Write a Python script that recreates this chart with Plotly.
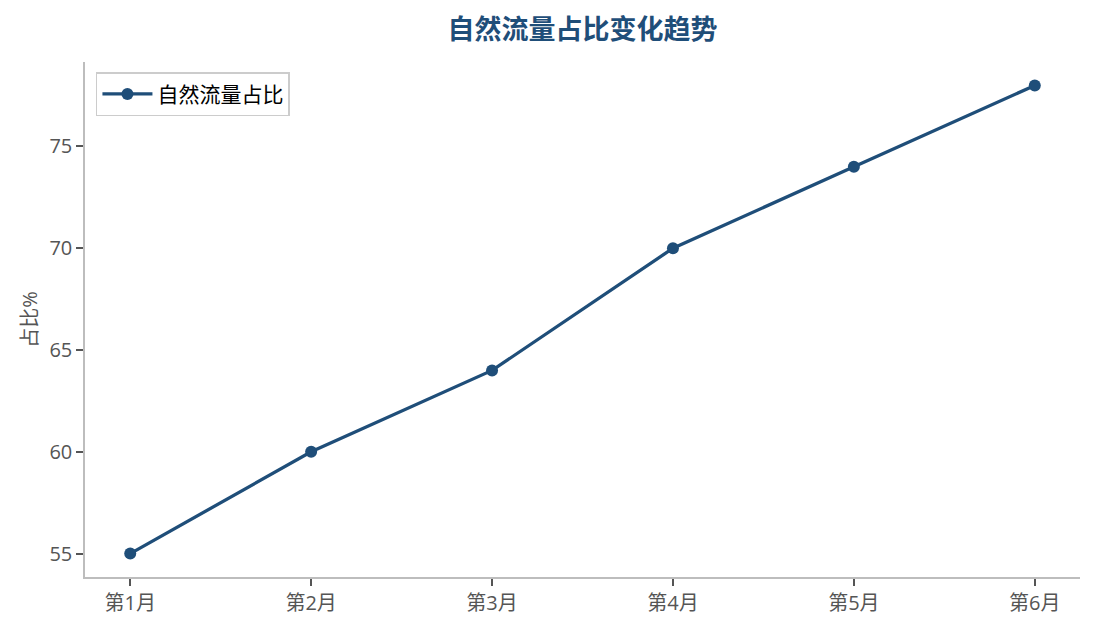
import plotly.graph_objects as go

# 自然流量占比 by month
months = ["第1月", "第2月", "第3月", "第4月", "第5月", "第6月"]
share = [55, 60, 64, 70, 74, 78]
y_ticks = [55, 60, 65, 70, 75]

main_color = "#1f4e79"
axis_color = "#bdbdbd"
text_gray = "#555555"
cjk = "Open Sans, Noto Sans CJK SC"

fig = go.Figure()
fig.add_trace(go.Scatter(
    x=months, y=share, mode="lines+markers", name="自然流量占比",
    line=dict(color=main_color, width=3.3),
    marker=dict(color=main_color, size=12),
))

# the page body adds an 8px offset, margins compensate for it
fig.update_layout(
    width=1095, height=630,
    paper_bgcolor="white", plot_bgcolor="white",
    margin=dict(l=77, r=23, t=54, b=61),
    font=dict(family=cjk, size=20, color=text_gray),
    title=dict(text="<b>自然流量占比变化趋势</b>", x=0.5, xref="paper",
               y=1 - 22 / 630, yref="container", yanchor="middle",
               font=dict(family="Noto Sans CJK SC", size=27, color=main_color)),
    showlegend=True,
    legend=dict(x=0.011, y=0.98, xanchor="left", yanchor="top",
                bgcolor="white", bordercolor="#cccccc", borderwidth=1.5,
                itemwidth=50, font=dict(family=cjk, size=21, color="black")),
)
fig.update_xaxes(
    range=[-0.25, 5.25], showgrid=False, zeroline=False,
    showline=True, linecolor=axis_color, linewidth=1.5,
    ticks="outside", ticklen=7, tickcolor=text_gray, tickwidth=1.5,
    tickfont=dict(family=cjk, size=20, color=text_gray),
)
fig.update_yaxes(
    range=[53.85, 79.15], tickvals=y_ticks, showgrid=False, zeroline=False,
    showline=True, linecolor=axis_color, linewidth=1.5,
    ticks="outside", ticklen=7, tickcolor=text_gray, tickwidth=1.5,
    tickfont=dict(family=cjk, size=20, color=text_gray),
    title=dict(text="占比%", standoff=6, font=dict(family=cjk, size=20, color=text_gray)),
)

fig.write_html("out.html")
